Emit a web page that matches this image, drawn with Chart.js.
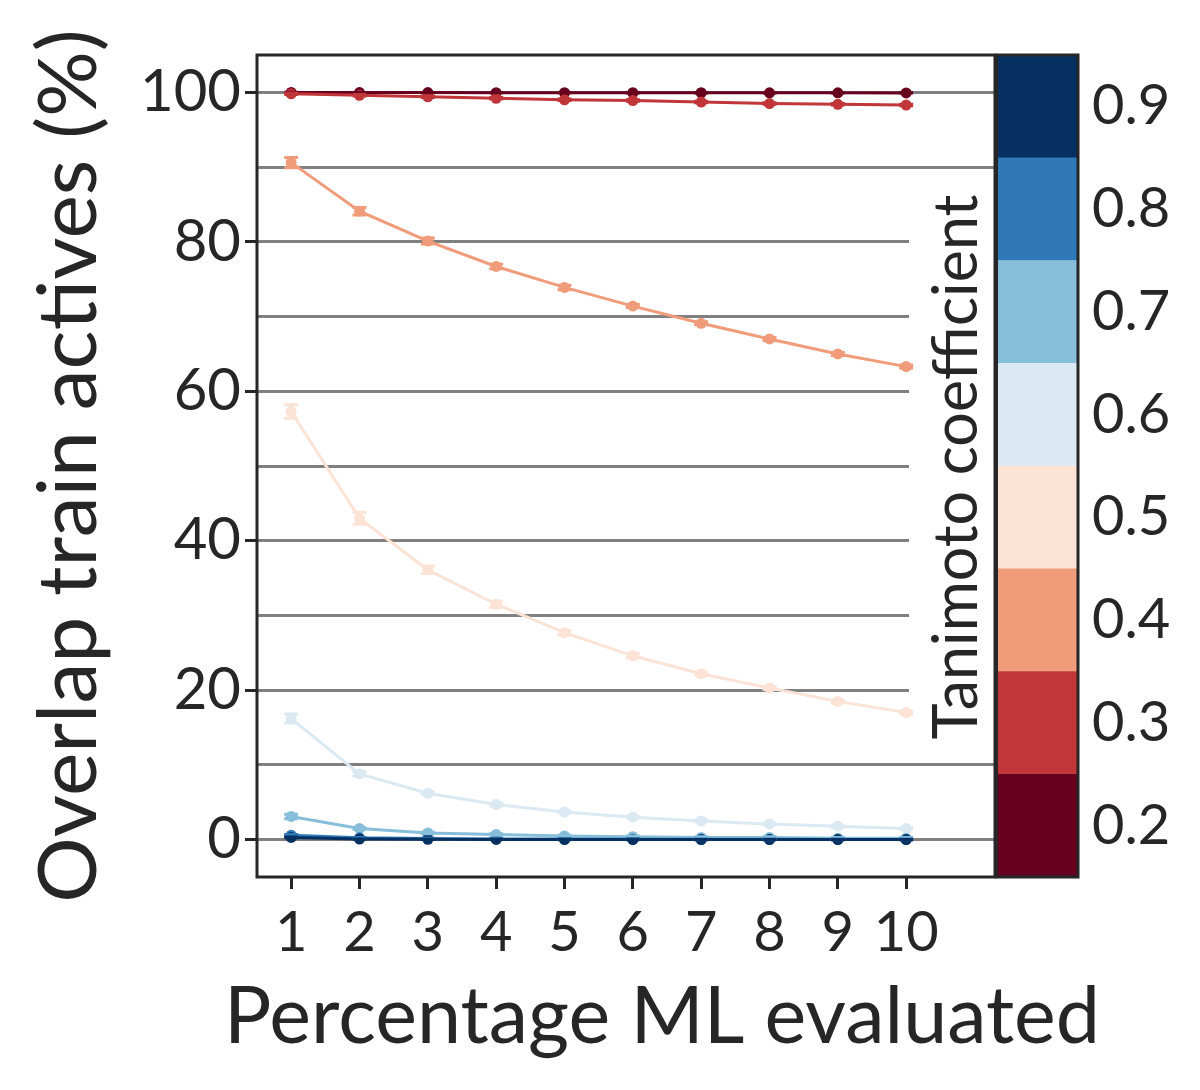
<!DOCTYPE html>
<html>
<head>
<meta charset="utf-8">
<script src="https://cdn.jsdelivr.net/npm/chart.js@4.4.1/dist/chart.umd.min.js"></script>
<style>
  html, body { margin: 0; padding: 0; background: #fff; }
  #wrap { position: relative; width: 1200px; height: 1090px; }
  #main { position: absolute; left: 0; top: 0; }
  #cbar { position: absolute; left: 995px; top: 0; }
</style>
</head>
<body>
<div id="wrap">
  <canvas id="main" width="1200" height="1090"></canvas>
  <canvas id="cbar" width="205" height="1090"></canvas>
</div>
<script>
// percentage of the library evaluated by ML
const xValues = [1, 2, 3, 4, 5, 6, 7, 8, 9, 10];
const yTicks = [0, 10, 20, 30, 40, 50, 60, 70, 80, 90, 100];

// one series per Tanimoto threshold
const levels = [0.2, 0.3, 0.4, 0.5, 0.6, 0.7, 0.8, 0.9];
const levelColors = ['#67001f', '#c13639', '#f09c7b', '#fbe3d6', '#dbe9f2', '#87beda', '#3079b8', '#053061'];

const overlap02 = [99.98, 99.97, 99.97, 99.96, 99.96, 99.95, 99.95, 99.94, 99.94, 99.93];
const overlap03 = [99.8, 99.6, 99.4, 99.2, 99.0, 98.9, 98.7, 98.5, 98.4, 98.3];
const overlap04 = [90.6, 84.1, 80.1, 76.7, 73.9, 71.4, 69.1, 67.0, 65.0, 63.3];
const overlap05 = [57.3, 43.0, 36.1, 31.5, 27.7, 24.6, 22.2, 20.3, 18.5, 17.0];
const overlap06 = [16.2, 8.8, 6.2, 4.7, 3.7, 3.0, 2.5, 2.1, 1.8, 1.5];
const overlap07 = [3.1, 1.5, 0.9, 0.7, 0.5, 0.4, 0.3, 0.3, 0.2, 0.2];
const overlap08 = [0.6, 0.25, 0.15, 0.1, 0.08, 0.06, 0.05, 0.04, 0.03, 0.03];
const overlap09 = [0.3, 0.08, 0.04, 0.03, 0.02, 0.02, 0.01, 0.01, 0.01, 0.01];

// std dev shown as error bars
const err02 = [0.02, 0.02, 0.02, 0.02, 0.02, 0.02, 0.02, 0.02, 0.02, 0.02];
const err03 = [0.1, 0.1, 0.1, 0.1, 0.1, 0.1, 0.1, 0.1, 0.1, 0.1];
const err04 = [0.7, 0.5, 0.4, 0.3, 0.3, 0.2, 0.2, 0.2, 0.2, 0.2];
const err05 = [0.9, 0.8, 0.5, 0.4, 0.3, 0.3, 0.2, 0.2, 0.2, 0.2];
const err06 = [0.6, 0.3, 0.2, 0.2, 0.1, 0.1, 0.1, 0.1, 0.1, 0.1];
const err07 = [0.3, 0.1, 0.1, 0.1, 0.1, 0.1, 0.1, 0.1, 0.1, 0.1];
const err08 = [0.1, 0.05, 0.05, 0.05, 0.05, 0.05, 0.05, 0.05, 0.05, 0.05];
const err09 = [0.05, 0.02, 0.02, 0.02, 0.02, 0.02, 0.02, 0.02, 0.02, 0.02];

const seriesValues = [overlap02, overlap03, overlap04, overlap05, overlap06, overlap07, overlap08, overlap09];
const seriesErrors = [err02, err03, err04, err05, err06, err07, err08, err09];

const FONT = 'Lato, "DejaVu Sans", sans-serif';
const INK = '#262626';
Chart.defaults.font.family = FONT;
Chart.defaults.color = INK;

const datasets = levels.map((lvl, i) => ({
  label: 'T = ' + lvl,
  data: seriesValues[i].map((v, j) => ({ x: xValues[j], y: v })),
  errors: seriesErrors[i],
  borderColor: levelColors[i],
  backgroundColor: levelColors[i],
  borderWidth: 3,
  pointRadius: 5.5,
  pointBorderWidth: 0,
  order: levels.length - i
}));

// frame around the axes box
const frame = {
  id: 'frame',
  afterDraw(chart) {
    const { ctx, chartArea: a } = chart;
    ctx.save();
    ctx.strokeStyle = INK;
    ctx.lineWidth = 3;
    ctx.strokeRect(a.left, a.top, a.right - a.left, a.bottom - a.top);
    ctx.restore();
  }
};

// error bars with caps
const errorBars = {
  id: 'errorBars',
  afterDatasetsDraw(chart) {
    const { ctx, scales: { x, y } } = chart;
    ctx.save();
    ctx.lineWidth = 3;
    chart.data.datasets.forEach(ds => {
      ctx.strokeStyle = ds.borderColor;
      ds.data.forEach((p, j) => {
        const e = ds.errors[j];
        const px = x.getPixelForValue(p.x);
        const y1 = y.getPixelForValue(p.y + e);
        const y2 = y.getPixelForValue(p.y - e);
        ctx.beginPath();
        ctx.moveTo(px, y1); ctx.lineTo(px, y2);
        ctx.moveTo(px - 7, y1); ctx.lineTo(px + 7, y1);
        ctx.moveTo(px - 7, y2); ctx.lineTo(px + 7, y2);
        ctx.stroke();
      });
    });
    ctx.restore();
  }
};

// colorbar label sits on a white box inside the axes
const cbarLabel = {
  id: 'cbarLabel',
  beforeDatasetsDraw(chart) {
    const { ctx, chartArea: a } = chart;
    ctx.save();
    ctx.fillStyle = '#fff';
    ctx.fillRect(909, 195, a.right - 909, 550);
    ctx.translate(977, 467);
    ctx.rotate(-Math.PI / 2);
    ctx.fillStyle = INK;
    ctx.font = '61px ' + FONT;
    ctx.textAlign = 'center';
    ctx.textBaseline = 'alphabetic';
    ctx.fillText('Tanimoto coefficient', 0, 0);
    ctx.restore();
  }
};

// x label is centred on axes + colorbar
const xTitle = {
  id: 'xTitle',
  afterDraw(chart) {
    const { ctx } = chart;
    ctx.save();
    ctx.fillStyle = INK;
    ctx.font = '79px ' + FONT;
    ctx.textAlign = 'center';
    ctx.textBaseline = 'alphabetic';
    ctx.fillText('Percentage ML evaluated', 662, 1043);
    ctx.restore();
  }
};

new Chart(document.getElementById('main'), {
  type: 'line',
  data: { datasets },
  plugins: [cbarLabel, errorBars, frame, xTitle],
  options: {
    responsive: false,
    animation: false,
    layout: { padding: { left: 0, top: 55, right: 205, bottom: 0 } },
    plugins: { legend: { display: false }, tooltip: { enabled: false } },
    scales: {
      x: {
        type: 'linear',
        min: 0.5,
        max: 11.3,
        afterBuildTicks: axis => { axis.ticks = xValues.map(v => ({ value: v })); },
        afterFit: scale => { scale.height = 213; },
        border: { display: false },
        grid: { drawOnChartArea: false, drawTicks: true, tickLength: 12, tickColor: INK, tickWidth: 3 },
        ticks: { autoSkip: false, maxRotation: 0, padding: 10, font: { size: 56 }, color: INK }
      },
      y: {
        min: -5,
        max: 105,
        afterBuildTicks: axis => { axis.ticks = yTicks.map(v => ({ value: v })); },
        afterFit: scale => { scale.width = 257; },
        border: { display: false },
        grid: {
          color: '#808080',
          lineWidth: 3,
          tickLength: 12,
          tickWidth: 3,
          tickColor: c => (c.tick && c.tick.value % 20 === 0) ? INK : 'rgba(0,0,0,0)'
        },
        ticks: {
          autoSkip: false,
          padding: 4,
          font: { size: 58 },
          color: INK,
          callback: v => (v % 20 === 0 ? v : '')
        },
        title: {
          display: true,
          text: 'Overlap train actives (%)',
          font: { size: 82 },
          color: INK,
          padding: { top: 20, bottom: 0 }
        }
      }
    }
  }
});

// discrete colorbar, one floating bar per threshold
const cbarFrame = {
  id: 'cbarFrame',
  afterDraw(chart) {
    const { ctx, chartArea: a } = chart;
    ctx.save();
    ctx.strokeStyle = INK;
    ctx.lineWidth = 3;
    ctx.strokeRect(a.left + 1.5, a.top, a.right - a.left - 1.5, a.bottom - a.top);
    ctx.restore();
  }
};

new Chart(document.getElementById('cbar'), {
  type: 'bar',
  data: {
    labels: [''],
    datasets: levels.map((lvl, i) => ({
      data: [[lvl - 0.05, lvl + 0.05]],
      backgroundColor: levelColors[i],
      borderWidth: 0,
      grouped: false,
      barPercentage: 1,
      categoryPercentage: 1
    }))
  },
  plugins: [cbarFrame],
  options: {
    responsive: false,
    animation: false,
    layout: { padding: { left: 0, top: 55, right: 0, bottom: 213 } },
    plugins: { legend: { display: false }, tooltip: { enabled: false } },
    scales: {
      x: { display: false },
      y: {
        position: 'right',
        min: 0.15,
        max: 0.95,
        afterBuildTicks: axis => { axis.ticks = levels.map(v => ({ value: v })); },
        afterFit: scale => { scale.width = 122; },
        border: { display: false },
        grid: { display: false },
        ticks: {
          autoSkip: false,
          padding: 6,
          font: { size: 56 },
          color: INK,
          callback: v => v.toFixed(1)
        }
      }
    }
  }
});
</script>
</body>
</html>
